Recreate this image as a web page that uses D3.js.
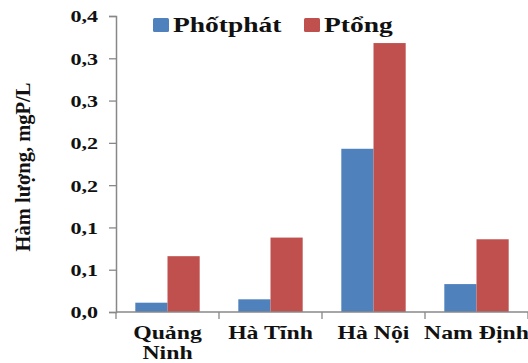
<!DOCTYPE html>
<html>
<head>
<meta charset="utf-8">
<script src="https://cdn.jsdelivr.net/npm/d3@7/dist/d3.min.js"></script>
<style>
  html, body { margin: 0; padding: 0; background: #fff; }
  svg { display: block; }
</style>
</head>
<body>
<svg id="chart" width="528" height="363"></svg>
<script>
// Phosphorus content by province (mg P / L)
const provinces = ["Quảng Ninh", "Hà Tĩnh", "Hà Nội", "Nam Định"];
const seriesNames = ["Phốtphát", "Ptổng"];
const phosphate = [0.011, 0.015, 0.193, 0.033];
const totalP = [0.066, 0.088, 0.318, 0.086];
const seriesColors = ["#4F81BD", "#C0504D"];
const yTicks = [0, 0.05, 0.10, 0.15, 0.20, 0.25, 0.30, 0.35];

const FONT = "Liberation Serif";

const values = [phosphate, totalP];
const rows = provinces.map((p, i) => ({ province: p, vals: seriesNames.map((s, j) => ({ key: s, value: values[j][i], color: seriesColors[j] })) }));

const svg = d3.select("#chart");
const margin = { left: 116, right: 0, top: 16, bottom: 51 };
const W = 528, H = 363;

const x0 = d3.scaleBand().domain(provinces).range([margin.left, W - margin.right]).paddingInner(0).paddingOuter(0);
const x1 = d3.scaleBand().domain(seriesNames).range([0, x0.bandwidth()]).paddingInner(0).paddingOuter(0.6);
const y = d3.scaleLinear().domain([0, 0.35]).range([H - margin.bottom, margin.top]);

const fmt = v => d3.format(".1f")(v + 1e-9).replace(".", ",");

// bars
const groups = svg.append("g").selectAll("g").data(rows).join("g")
  .attr("transform", d => `translate(${x0(d.province)},0)`);
groups.selectAll("rect").data(d => d.vals).join("rect")
  .attr("x", d => x1(d.key))
  .attr("width", x1.bandwidth())
  .attr("y", d => y(d.value))
  .attr("height", d => y(0) - y(d.value))
  .attr("fill", d => d.color);

// y axis
const yAxis = svg.append("g").attr("transform", `translate(${margin.left},0)`)
  .call(d3.axisLeft(y).tickValues(yTicks).tickSize(7).tickPadding(11).tickFormat(fmt));
yAxis.attr("font-family", FONT).attr("font-weight", "bold");
yAxis.select(".domain").attr("stroke", "#888").attr("stroke-width", 1.5);
yAxis.selectAll(".tick line").attr("stroke", "#888").attr("stroke-width", 1.3);
yAxis.selectAll(".tick text")
  .attr("font-family", FONT).attr("font-weight", "bold")
  .attr("font-size", 17).attr("fill", "#111")
  .attr("transform", "scale(1.3,1)").attr("x", -18 / 1.3).attr("dy", "0.35em");

// x axis: category boundary ticks
const xAxisG = svg.append("g").attr("transform", `translate(0,${y(0)})`);
xAxisG.append("line").attr("x1", margin.left).attr("x2", W).attr("stroke", "#888").attr("stroke-width", 1.5);
const bounds = provinces.map(p => x0(p)).concat([x0.range()[1]]);
xAxisG.selectAll(".bt").data(bounds).join("line")
  .attr("x1", d => d).attr("x2", d => d).attr("y1", 0).attr("y2", 7)
  .attr("stroke", "#888").attr("stroke-width", 1.3);

// category labels (two lines where needed)
const labelLines = { "Quảng Ninh": ["Quảng", "Ninh"] };
provinces.forEach(p => {
  const lines = labelLines[p] || [p];
  const cx = x0(p) + x0.bandwidth() / 2;
  const t = svg.append("text")
    .attr("transform", `translate(${cx},${y(0) + 27}) scale(1.25,1)`)
    .attr("text-anchor", "middle").attr("font-size", 19).attr("fill", "#111")
    .attr("font-family", FONT).attr("font-weight", "bold");
  lines.forEach((l, i) => t.append("tspan").attr("x", 0).attr("dy", i === 0 ? 0 : 20).text(l));
});

// y axis title
svg.append("text")
  .attr("transform", `translate(30,167) rotate(-90)`)
  .attr("text-anchor", "middle").attr("font-size", 20.5).attr("fill", "#111")
  .attr("font-family", FONT).attr("font-weight", "bold")
  .text("Hàm lượng, mgP/L");

// legend
const legendX = [153, 304];
seriesNames.forEach((s, i) => {
  const g = svg.append("g").attr("transform", `translate(${legendX[i]},18)`);
  g.append("rect").attr("width", 16).attr("height", 14).attr("rx", 1.5).attr("fill", seriesColors[i]);
  g.append("text").attr("transform", "translate(20,14) scale(1.25,1)")
    .attr("font-size", 22).attr("fill", "#111")
    .attr("font-family", FONT).attr("font-weight", "bold").text(s);
});
</script>
</body>
</html>
